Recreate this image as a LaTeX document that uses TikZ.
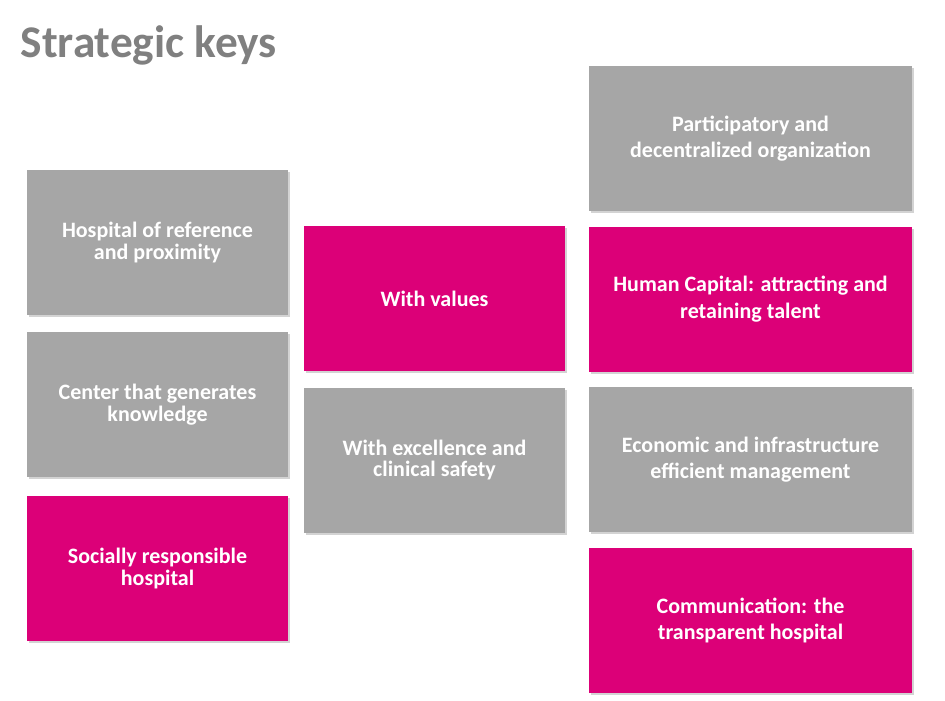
\documentclass[tikz,border=0pt]{standalone}
\usepackage{fontspec}
\setmainfont{Carlito}
\usetikzlibrary{shadows}
\definecolor{keygray}{HTML}{A6A6A6}
\definecolor{keypink}{HTML}{DC0078}
\definecolor{titlegray}{HTML}{808080}
\tikzset{
  keybox/.style={minimum width=#1, minimum height=108.75pt, inner sep=4pt,
    text=white, font=\bfseries\fontsize{16.5}{17}\selectfont, align=center,
    drop shadow={shadow xshift=1.5pt, shadow yshift=-1.5pt, opacity=.35}},
  grey/.style={keybox=#1, fill=keygray},
  pink/.style={keybox=#1, fill=keypink}
}
\begin{document}
\begin{tikzpicture}[x=0.75pt,y=-0.75pt]
  \useasboundingbox (0,0) rectangle (945,700);
  \node[anchor=west, text=titlegray, font=\bfseries\fontsize{34}{36}\selectfont] (title) at (16,45) {Strategic keys};
  % left column
  \node[grey=195.75pt] (hosp) at (157.5,242.5) {Hospital of reference\\[-1pt]and proximity};
  \node[grey=195.75pt] (center) at (157.5,404.5) {Center that generates\\[-1pt]knowledge};
  \node[pink=195.75pt] (social) at (157.5,568.5) {Socially responsible\\[-1pt]hospital};
  % middle column
  \node[pink=195.75pt] (values) at (434.5,298.5) {With values};
  \node[grey=195.75pt] (excel) at (434.5,460) {With excellence and\\[-1pt]clinical safety};
  % right column
  \node[grey=242.25pt] (partic) at (750.5,138.5) {Participatory and\\[3pt]decentralized organization};
  \node[pink=242.25pt] (human) at (750.5,299) {Human Capital: attracting and\\[3pt]retaining talent};
  \node[grey=242.25pt] (econ) at (750.5,459.5) {Economic and infrastructure\\[3pt]efficient management};
  \node[pink=242.25pt] (comm) at (750.5,620.5) {Communication: the\\[3pt]transparent hospital};
\end{tikzpicture}
\end{document}
